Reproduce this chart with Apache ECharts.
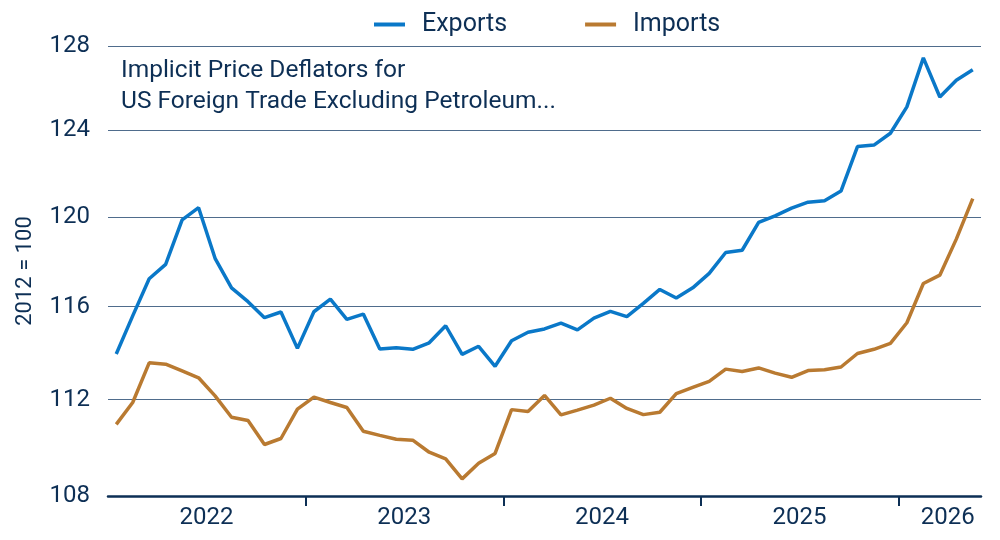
<!DOCTYPE html>
<html>
<head>
<meta charset="utf-8">
<script src="https://cdn.jsdelivr.net/npm/echarts@6/dist/echarts.min.js"></script>
<style>
  html, body { margin: 0; padding: 0; background: #fff; }
  #chart { width: 1000px; height: 540px; }
</style>
</head>
<body>
<div id="chart"></div>
<script>
const months = [
  '2022-01', '2022-02', '2022-03', '2022-04', '2022-05', '2022-06', '2022-07', '2022-08', '2022-09', '2022-10', '2022-11', '2022-12',
  '2023-01', '2023-02', '2023-03', '2023-04', '2023-05', '2023-06', '2023-07', '2023-08', '2023-09', '2023-10', '2023-11', '2023-12',
  '2024-01', '2024-02', '2024-03', '2024-04', '2024-05', '2024-06', '2024-07', '2024-08', '2024-09', '2024-10', '2024-11', '2024-12',
  '2025-01', '2025-02', '2025-03', '2025-04', '2025-05', '2025-06', '2025-07', '2025-08', '2025-09', '2025-10', '2025-11', '2025-12',
  '2026-01', '2026-02', '2026-03', '2026-04', '2026-05'
]

const exportsData = [
  113.95, 115.6, 117.23, 117.87, 119.87, 120.42, 118.14, 116.83, 116.22, 115.52, 115.77, 114.19,
  115.78, 116.33, 115.45, 115.68, 114.16, 114.22, 114.15, 114.43, 115.17, 113.93, 114.28, 113.42,
  114.52, 114.89, 115.03, 115.28, 114.99, 115.5, 115.8, 115.57, 116.15, 116.76, 116.38, 116.83,
  117.47, 118.4, 118.5, 119.75, 120.05, 120.4, 120.67, 120.74, 121.18, 123.23, 123.3, 123.85,
  125.09, 127.43, 125.56, 126.36, 126.86
]

const importsData = [
  110.96, 111.88, 113.57, 113.51, 113.22, 112.93, 112.16, 111.26, 111.12, 110.12, 110.37, 111.6,
  112.11, 111.88, 111.67, 110.67, 110.5, 110.34, 110.3, 109.8, 109.52, 108.7, 109.34, 109.75,
  111.58, 111.5, 112.18, 111.36, 111.56, 111.77, 112.06, 111.63, 111.37, 111.47, 112.26, 112.52,
  112.78, 113.3, 113.2, 113.35, 113.13, 112.95, 113.24, 113.27, 113.39, 113.97, 114.15, 114.41,
  115.3, 117.02, 117.39, 119.0, 120.83
]

const yTicks = [108, 112, 116, 120, 124, 128]
// month under which each year label is printed
const yearLabelMonths = ['2022-06', '2023-06', '2024-06', '2025-06', '2026-03']
// year boundaries, counted in months from the first category
const yearBreaks = [12, 24, 36, 48]

const navy = '#0d2f55'
const font = 'Roboto'

const chart = echarts.init(document.getElementById('chart'))

const option = {
  animation: false,
  color: ['#0a78c8', '#b97a31'],
  grid: { left: 108, right: 19, top: 46, bottom: 44 },
  legend: {
    data: ['Exports', 'Imports'],
    left: 369,
    top: 7,
    itemWidth: 31,
    itemHeight: 4,
    itemGap: 78,
    icon: 'path://M0,0 L31,0 L31,4 L0,4 Z',
    textStyle: { color: navy, fontFamily: font, fontSize: 25, padding: [0, 0, 0, 12] }
  },
  graphic: [{
    type: 'text',
    left: 121,
    top: 55,
    style: {
      text: 'Implicit Price Deflators for\nUS Foreign Trade Excluding Petroleum...',
      font: '24.5px Roboto',
      lineHeight: 31,
      fill: navy
    }
  }],
  xAxis: [
    {
      type: 'category',
      data: months,
      boundaryGap: true,
      axisLine: { lineStyle: { color: navy, width: 2.5 } },
      axisTick: { show: false },
      axisLabel: {
        color: navy,
        fontFamily: font,
        fontSize: 24,
        margin: 10,
        padding: [0, 0, 0, 16],
        interval: (index, value) => yearLabelMonths.includes(value),
        formatter: (value) => value.slice(0, 4)
      },
      splitLine: { show: false }
    },
    {
      // only carries the year-boundary ticks
      type: 'value',
      position: 'bottom',
      min: 0,
      max: months.length,
      axisLine: { show: false },
      axisLabel: { show: false },
      splitLine: { show: false },
      axisTick: {
        show: true,
        length: 10,
        customValues: yearBreaks,
        lineStyle: { color: navy, width: 2 }
      }
    }
  ],
  yAxis: {
    type: 'log',
    min: 108,
    max: 128,
    name: '2012 = 100',
    nameLocation: 'middle',
    nameGap: 72,
    nameTextStyle: { color: navy, fontFamily: font, fontSize: 22 },
    axisLine: { show: false },
    axisTick: { show: false, customValues: yTicks },
    axisLabel: {
      customValues: yTicks,
      color: navy,
      fontFamily: font,
      fontSize: 24,
      margin: 18
    },
    splitLine: { show: true, lineStyle: { color: '#4f6c8c', width: 1.2 } }
  },
  series: [
    {
      name: 'Exports',
      type: 'line',
      data: exportsData,
      symbol: 'none',
      lineStyle: { width: 3.5 }
    },
    {
      name: 'Imports',
      type: 'line',
      data: importsData,
      symbol: 'none',
      lineStyle: { width: 3.5 }
    }
  ]
}

chart.setOption(option)
</script>
</body>
</html>
